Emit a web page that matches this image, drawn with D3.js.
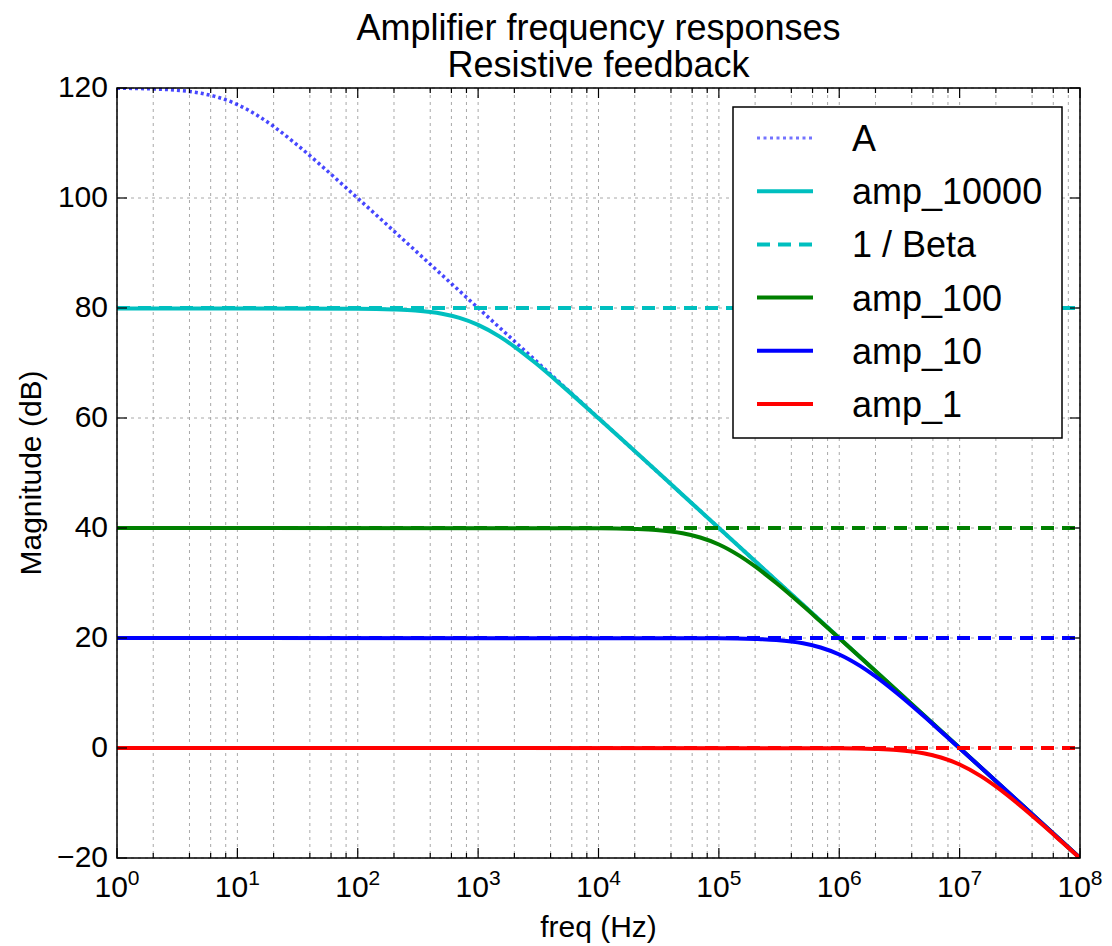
<!DOCTYPE html>
<html>
<head>
<meta charset="utf-8">
<script src="https://cdn.jsdelivr.net/npm/d3@7"></script>
<style>
    body { margin: 0; background: #fff; }
    text { font-family: "Liberation Sans", Arial, sans-serif; fill: #000; }
</style>
</head>
<body>
<div id="chart"></div>
<script>
// open loop gain A
const freqA = [1, 2, 3, 5, 7, 10, 15, 20, 30, 50, 70, 100, 200, 500, 1e3, 1e4, 1e5, 1e6, 1e7, 1e8];
const magA = [119.96, 119.83, 119.63, 119.03, 118.27, 116.99, 114.88, 113.01, 110.0, 105.85, 103.0, 99.96, 93.97, 86.02, 80.0, 60.0, 40.0, 20.0, 0.0, -20.0];

// closed loop responses
const freq10000 = [1, 100, 200, 300, 500, 700, 1e3, 1.5e3, 2e3, 3e3, 5e3, 1e4, 1e5, 1e6, 1e7, 1e8];
const mag10000 = [79.91, 79.87, 79.74, 79.54, 78.96, 78.21, 76.94, 74.85, 72.99, 69.99, 65.84, 59.95, 40.0, 20.0, 0.0, -20.0];
const freq100 = [1, 1e4, 2e4, 3e4, 5e4, 7e4, 1e5, 1.5e5, 2e5, 3e5, 5e5, 7e5, 1e6, 1e7, 1e8];
const mag100 = [40.0, 39.96, 39.83, 39.63, 39.03, 38.27, 37.0, 34.88, 33.01, 30.0, 25.85, 23.0, 19.96, 0.0, -20.0];
const freq10 = [1, 1e5, 2e5, 3e5, 5e5, 7e5, 1e6, 1.5e6, 2e6, 3e6, 5e6, 7e6, 1e7, 1e8];
const mag10 = [20.0, 19.96, 19.83, 19.63, 19.03, 18.27, 17.0, 14.88, 13.01, 10.0, 5.85, 3.0, -0.04, -20.0];
const freq1 = [1, 1e6, 2e6, 3e6, 5e6, 7e6, 1e7, 1.5e7, 2e7, 3e7, 5e7, 7e7, 1e8];
const mag1 = [0.0, -0.04, -0.17, -0.37, -0.97, -1.73, -3.01, -5.12, -6.99, -10.0, -14.15, -17.0, -20.04];

// 1 / Beta levels (dB)
const betaLevels = [80, 40, 20, 0];

const legendLabels = ["A", "amp_10000", "1 / Beta", "amp_100", "amp_10", "amp_1"];
const yTicks = [-20, 0, 20, 40, 60, 80, 100, 120];
const xDecades = [0, 1, 2, 3, 4, 5, 6, 7, 8];

const width = 1112, height = 946;
const margin = {top: 88, right: 32, bottom: 88, left: 117};
const innerW = width - margin.left - margin.right;
const innerH = height - margin.top - margin.bottom;

const svg = d3.select('#chart').append('svg')
    .attr('width', width)
    .attr('height', height);

const x = d3.scaleLog().domain([1, 1e8]).range([0, innerW]);
const y = d3.scaleLinear().domain([-20, 120]).range([innerH, 0]);

const g = svg.append('g').attr('transform', `translate(${margin.left},${margin.top})`);

g.append('clipPath').attr('id', 'clip')
    .append('rect').attr('width', innerW).attr('height', innerH);

// minor positions: 2,4,6,8 per decade
const minors = [];
for (let k = 0; k < 8; k++) {
    [2, 4, 6, 8].forEach(m => minors.push(m * Math.pow(10, k)));
}
const majors = xDecades.map(d => Math.pow(10, d));

// grid
const grid = g.append('g').attr('class', 'grid');
grid.selectAll('line.vx')
    .data(majors.concat(minors))
    .enter().append('line')
    .attr('x1', d => x(d)).attr('x2', d => x(d))
    .attr('y1', 0).attr('y2', innerH)
    .attr('stroke', '#a8a8a8').attr('stroke-width', 1)
    .attr('stroke-dasharray', '3,4');
grid.selectAll('line.hy')
    .data(yTicks)
    .enter().append('line')
    .attr('x1', 0).attr('x2', innerW)
    .attr('y1', d => y(d)).attr('y2', d => y(d))
    .attr('stroke', '#a8a8a8').attr('stroke-width', 1)
    .attr('stroke-dasharray', '3,4');

const line = d3.line()
    .x(d => x(d[0]))
    .y(d => y(d[1]))
    .curve(d3.curveMonotoneX);

const zip = (f, m) => f.map((v, i) => [v, m[i]]);

const plot = g.append('g').attr('clip-path', 'url(#clip)');

// A (dotted)
plot.append('path')
    .datum(zip(freqA, magA))
    .attr('d', line)
    .attr('fill', 'none')
    .attr('stroke', '#0000ff')
    .attr('stroke-opacity', 0.72)
    .attr('stroke-width', 3.5)
    .attr('stroke-dasharray', '3,3');

const series = [
    {f: freq10000, m: mag10000, beta: betaLevels[0], color: '#00bfbf'},
    {f: freq100, m: mag100, beta: betaLevels[1], color: '#008000'},
    {f: freq10, m: mag10, beta: betaLevels[2], color: '#0000ff'},
    {f: freq1, m: mag1, beta: betaLevels[3], color: '#ff0000'}
];

series.forEach(s => {
    plot.append('path')
        .datum(zip(s.f, s.m))
        .attr('d', line)
        .attr('fill', 'none')
        .attr('stroke', s.color)
        .attr('stroke-width', 4);
    plot.append('path')
        .datum([[1, s.beta], [1e8, s.beta]])
        .attr('d', line)
        .attr('fill', 'none')
        .attr('stroke', s.color)
        .attr('stroke-width', 4)
        .attr('stroke-dasharray', '13,8');
});

// ticks on all four sides, pointing inwards
const ticks = g.append('g').attr('stroke', '#000').attr('stroke-width', 1.2);
majors.forEach(d => {
    ticks.append('line').attr('x1', x(d)).attr('x2', x(d)).attr('y1', innerH).attr('y2', innerH - 10);
    ticks.append('line').attr('x1', x(d)).attr('x2', x(d)).attr('y1', 0).attr('y2', 10);
});
minors.forEach(d => {
    ticks.append('line').attr('x1', x(d)).attr('x2', x(d)).attr('y1', innerH).attr('y2', innerH - 5);
    ticks.append('line').attr('x1', x(d)).attr('x2', x(d)).attr('y1', 0).attr('y2', 5);
});
yTicks.forEach(d => {
    ticks.append('line').attr('x1', 0).attr('x2', 10).attr('y1', y(d)).attr('y2', y(d));
    ticks.append('line').attr('x1', innerW).attr('x2', innerW - 10).attr('y1', y(d)).attr('y2', y(d));
});

// frame
g.append('rect')
    .attr('width', innerW).attr('height', innerH)
    .attr('fill', 'none').attr('stroke', '#000').attr('stroke-width', 1.5);

// y tick labels
g.selectAll('text.ylab')
    .data(yTicks)
    .enter().append('text')
    .attr('x', -9)
    .attr('y', d => y(d) + 9)
    .attr('text-anchor', 'end')
    .style('font-size', '30px')
    .text(d => d < 0 ? '\u2212' + Math.abs(d) : d);

// x tick labels 10^k
const xl = g.selectAll('text.xlab')
    .data(xDecades)
    .enter().append('text')
    .attr('x', d => x(Math.pow(10, d)))
    .attr('y', innerH + 39)
    .attr('text-anchor', 'middle')
    .style('font-size', '30px');
xl.append('tspan').text('10');
xl.append('tspan').attr('dy', -12).style('font-size', '21px').text(d => d);

// axis labels
g.append('text')
    .attr('x', innerW / 2)
    .attr('y', innerH + 79)
    .attr('text-anchor', 'middle')
    .style('font-size', '30px')
    .text('freq (Hz)');
g.append('text')
    .attr('transform', `translate(${-76},${innerH / 2}) rotate(-90)`)
    .attr('text-anchor', 'middle')
    .style('font-size', '30px')
    .text('Magnitude (dB)');

// title
svg.append('text')
    .attr('x', margin.left + innerW / 2).attr('y', 40)
    .attr('text-anchor', 'middle')
    .style('font-size', '36px')
    .text('Amplifier frequency responses');
svg.append('text')
    .attr('x', margin.left + innerW / 2).attr('y', 77)
    .attr('text-anchor', 'middle')
    .style('font-size', '36px')
    .text('Resistive feedback');

// legend
const legendStyles = [
    {color: '#0000ff', opacity: 0.55, dash: '3,3.5', w: 3},
    {color: '#00bfbf', opacity: 1, dash: null, w: 4},
    {color: '#00bfbf', opacity: 1, dash: '13,8', w: 4},
    {color: '#008000', opacity: 1, dash: null, w: 4},
    {color: '#0000ff', opacity: 1, dash: null, w: 4},
    {color: '#ff0000', opacity: 1, dash: null, w: 4}
];
const legend = svg.append('g').attr('transform', 'translate(733,107)');
legend.append('rect')
    .attr('width', 329).attr('height', 331)
    .attr('fill', '#fff').attr('stroke', '#000').attr('stroke-width', 1.5);
legendLabels.forEach((lab, i) => {
    const cy = 31 + i * 53.2;
    const st = legendStyles[i];
    legend.append('line')
        .attr('x1', 24).attr('x2', 80)
        .attr('y1', cy).attr('y2', cy)
        .attr('stroke', st.color)
        .attr('stroke-opacity', st.opacity)
        .attr('stroke-width', st.w)
        .attr('stroke-dasharray', st.dash);
    legend.append('text')
        .attr('x', 119).attr('y', cy + 13)
        .style('font-size', '36px')
        .text(lab);
});
</script>
</body>
</html>
